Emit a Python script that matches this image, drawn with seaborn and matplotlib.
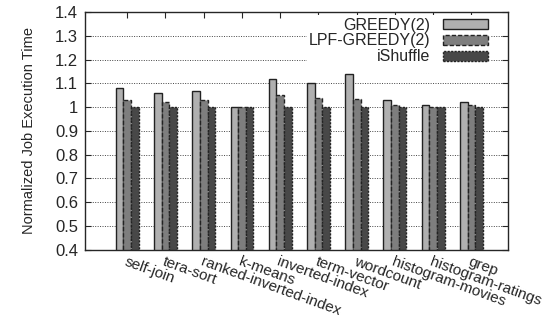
import pandas as pd
import seaborn as sns
import matplotlib.pyplot as plt

# Data
workloads = ["self-join", "tera-sort", "ranked-inverted-index", "k-means",
             "inverted-index", "term-vector", "wordcount", "histogram-movies",
             "histogram-ratings", "grep"]
greedy = [1.08, 1.06, 1.07, 1.00, 1.12, 1.10, 1.14, 1.03, 1.01, 1.02]
lpf_greedy = [1.03, 1.02, 1.03, 1.00, 1.05, 1.04, 1.035, 1.01, 1.00, 1.01]
ishuffle = [1.00, 1.00, 1.00, 1.00, 1.00, 1.00, 1.00, 1.00, 1.00, 1.00]
schemes = ["GREEDY(2)", "LPF-GREEDY(2)", "iShuffle"]

df = pd.DataFrame({
    "workload": workloads * 3,
    "scheme": [schemes[0]] * 10 + [schemes[1]] * 10 + [schemes[2]] * 10,
    "time": greedy + lpf_greedy + ishuffle,
})

sns.set_style("ticks")
plt.rcParams["font.family"] = ["Liberation Sans", "DejaVu Sans"]

fig, ax = plt.subplots(figsize=(5.46, 3.2), dpi=100)
colors = ["#b0b0b0", "#7e7e7e", "#484848"]
styles = ["-", (0, (3, 1.5)), (0, (1.5, 1))]

ax.yaxis.grid(True, linestyle=(0, (1, 1.5)), color="#444444", linewidth=0.7)
ax.set_axisbelow(True)

sns.barplot(data=df, x="workload", y="time", hue="scheme", palette=colors,
            width=0.6, ax=ax, legend=False)

for cont, ls in zip(ax.containers, styles):
    for bar in cont:
        bar.set_edgecolor("#222222")
        bar.set_linewidth(1.0)
        bar.set_linestyle(ls)

ax.set_ylim(0.4, 1.4)
ax.set_yticks([0.4 + 0.1 * i for i in range(11)])
ax.set_yticklabels([("%.1f" % (0.4 + 0.1 * i)).rstrip("0").rstrip(".") for i in range(11)])
ax.set_xlim(-1.1, 9.95)
ax.set_xlabel("")
ax.set_ylabel("Normalized Job Execution Time", fontsize=10.5, labelpad=14)
ax.tick_params(axis="y", direction="in", right=True, labelsize=12, length=4, pad=5)
ax.tick_params(axis="x", direction="in", top=True, bottom=False, length=4)
ax.set_xticks(range(len(workloads)))
ax.set_xticklabels(workloads, rotation=-20, ha="left", va="top",
                   rotation_mode="anchor", fontsize=11)
for sp in ax.spines.values():
    sp.set_linewidth(1.0)

handles = [plt.Rectangle((0, 0), 1, 1, facecolor=c, edgecolor="#222222",
                         linestyle=ls, linewidth=1.0)
           for c, ls in zip(colors, styles)]
leg = ax.legend(handles, schemes, loc="upper right", bbox_to_anchor=(0.965, 0.997),
                markerfirst=False, fontsize=11.5, handlelength=2.8, handleheight=0.6,
                labelspacing=0.05, borderaxespad=0.15, borderpad=0.15,
                frameon=True, fancybox=False, handletextpad=0.8)
leg.get_frame().set_edgecolor("none")
leg.get_frame().set_facecolor("white")
leg.get_frame().set_alpha(1)

fig.subplots_adjust(left=0.156, right=0.93, top=0.962, bottom=0.22)
fig.savefig("out.png", dpi=100)
